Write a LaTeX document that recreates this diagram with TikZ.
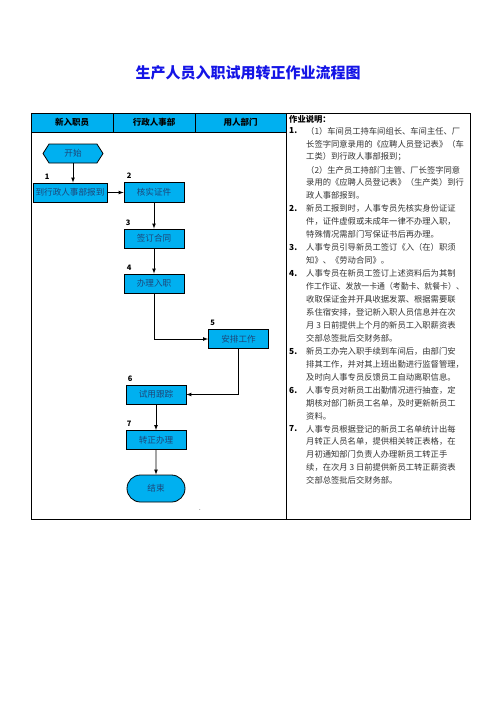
\documentclass[tikz,border=0pt]{standalone}
\usepackage{fontspec}
\setmainfont{Noto Sans CJK SC}
\usetikzlibrary{shapes.symbols,shapes.misc}
\definecolor{laneblue}{RGB}{0,176,240}
\definecolor{boxtext}{RGB}{30,70,120}
\definecolor{titleblue}{RGB}{20,20,230}
\tikzset{
  flowbox/.style={draw=black, line width=0.8pt, fill=laneblue, text=boxtext,
    minimum width=60pt, minimum height=19pt, inner sep=1pt,
    font=\fontsize{8.6}{10}\selectfont},
  stepnum/.style={font=\bfseries\fontsize{7.5}{8}\selectfont, inner sep=0pt, anchor=south west},
  headcell/.style={draw=black, line width=0.8pt, fill=laneblue, minimum height=19pt,
    font=\bfseries\fontsize{8.5}{10}\selectfont},
  noteline/.style={anchor=west, inner sep=0pt, text=black!80, font=\fontsize{8.3}{10}\selectfont},
  itemnum/.style={anchor=west, inner sep=0pt, font=\bfseries\fontsize{8.3}{10}\selectfont},
  flowline/.style={-latex, line width=0.7pt}
}
\begin{document}
\begin{tikzpicture}[x=1pt, y=-1pt]
\useasboundingbox (0,0) rectangle (496,702);
% title
\node[text=titleblue, font=\bfseries\fontsize{15}{18}\selectfont] (title) at (248,73) {生产人员入职试用转正作业流程图};

% frame and header
\draw[line width=1pt] (31,113) rectangle (470,519);
\draw[line width=1pt] (286,113) -- (286,519);
\node[headcell, minimum width=82pt] (h1) at (72,122.5) {新入职员};
\node[headcell, minimum width=82pt] (h2) at (154,122.5) {行政人事部};
\node[headcell, minimum width=91pt] (h3) at (240.5,122.5) {用人部门};

% flow
\node[flowbox, shape=signal, signal to=west and east, signal pointer angle=115] (start) at (73,153.5) {开始};
\node[flowbox, minimum width=74pt] (report) at (70,192.5) {到行政人事部报到};
\node[flowbox, minimum height=20pt] (verify) at (154,192) {核实证件};
\node[flowbox] (contract) at (154,238.5) {签订合同};
\node[flowbox] (onboard) at (154,283.5) {办理入职};
\node[flowbox] (assign) at (238.5,339) {安排工作};
\node[flowbox] (trial) at (156,394.5) {试用跟踪};
\node[flowbox] (regular) at (156,440) {转正办理};
\node[flowbox, shape=rounded rectangle, minimum height=27pt] (finish) at (156,488.5) {结束};
\node[inner sep=0pt, font=\fontsize{6}{6}\selectfont] (dot) at (200,510) {.};

\node[stepnum] (s1) at ([xshift=12pt,yshift=3pt]report.north west) {1};
\node[stepnum] (s2) at ([xshift=3pt,yshift=3pt]verify.north west) {2};
\node[stepnum] (s3) at ([xshift=2pt,yshift=3pt]contract.north west) {3};
\node[stepnum] (s4) at ([xshift=3pt,yshift=3pt]onboard.north west) {4};
\node[stepnum] (s5) at ([xshift=2pt,yshift=3pt]assign.north west) {5};
\node[stepnum] (s6) at ([xshift=2pt,yshift=3pt]trial.north west) {6};
\node[stepnum] (s7) at ([xshift=1pt,yshift=3pt]regular.north west) {7};

\draw[flowline] (start.south) -- (start.south |- report.north);
\draw[flowline] (report.east) -- (report.east -| verify.west);
\draw[flowline] (verify) -- (contract);
\draw[flowline] (contract) -- (onboard);
\draw[flowline] (onboard) |- (assign);
\draw[flowline] (assign) |- (trial);
\draw[flowline] (trial) -- (regular);
\draw[flowline] (regular) -- (finish);

% notes
\node[itemnum] (notehead) at (289,119) {作业说明：};
\foreach \txt [count=\i from 0] in {
  {（1）车间员工持车间组长、车间主任、厂},
  {长签字同意录用的《应聘人员登记表》（车},
  {工类）到行政人事部报到；},
  {（2）生产员工持部门主管、厂长签字同意},
  {录用的《应聘人员登记表》（生产类）到行},
  {政人事部报到。},
  {新员工报到时，人事专员先核实身份证证},
  {件，证件虚假或未成年一律不办理入职，},
  {特殊情况需部门写保证书后再办理。},
  {人事专员引导新员工签订《入（在）职须},
  {知》、《劳动合同》。},
  {人事专员在新员工签订上述资料后为其制},
  {\scalebox{0.95}[1]{作工作证、发放一卡通（考勤卡、就餐卡）、}},
  {收取保证金并开具收据发票、根据需要联},
  {系住宿安排，登记新入职人员信息并在次},
  {月 3 日前提供上个月的新员工入职薪资表},
  {交部总签批后交财务部。},
  {新员工办完入职手续到车间后，由部门安},
  {排其工作，并对其上班出勤进行监督管理，},
  {及时向人事专员反馈员工自动离职信息。},
  {人事专员对新员工出勤情况进行抽查，定},
  {期核对部门新员工名单，及时更新新员工},
  {资料。},
  {人事专员根据登记的新员工名单统计出每},
  {月转正人员名单，提供相关转正表格，在},
  {月初通知部门负责人办理新员工转正手},
  {续，在次月 3 日前提供新员工转正薪资表},
  {交部总签批后交财务部。}}
  \node[noteline] (n\i) at (306,{131+\i*12.95}) {\txt};
\foreach \num/\row in {1/0,2/6,3/9,4/11,5/17,6/20,7/23}
  \node[itemnum] (m\num) at ([xshift=-17pt]n\row.west) {\num.};
\end{tikzpicture}
\end{document}
